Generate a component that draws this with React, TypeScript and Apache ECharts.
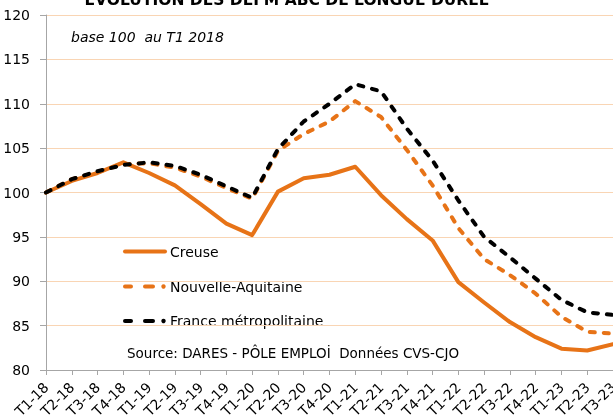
import React, { useEffect, useRef } from "react";
import * as echarts from "echarts";

const categories = [
  "T1-18", "T2-18", "T3-18", "T4-18",
  "T1-19", "T2-19", "T3-19", "T4-19",
  "T1-20", "T2-20", "T3-20", "T4-20",
  "T1-21", "T2-21", "T3-21", "T4-21",
  "T1-22", "T2-22", "T3-22", "T4-22",
  "T1-23", "T2-23", "T3-23",
];

const creuse = [100, 101.3, 102.2, 103.4, 102.2, 100.8, 98.7, 96.5, 95.2, 100.1, 101.6, 102.0, 102.9, 99.7, 97.0, 94.6, 89.9, 87.6, 85.4, 83.7, 82.4, 82.2, 82.9];
const nouvelleAquitaine = [100, 101.5, 102.3, 103.2, 103.3, 102.8, 101.8, 100.5, 99.3, 104.7, 106.6, 108.0, 110.3, 108.5, 104.8, 100.8, 96.0, 92.5, 90.7, 88.6, 86.0, 84.3, 84.1];
const franceMetro = [100, 101.5, 102.4, 103.1, 103.4, 103.0, 102.0, 100.7, 99.4, 104.9, 108.0, 110.0, 112.2, 111.4, 107.2, 103.6, 99.1, 95.0, 92.7, 90.3, 87.9, 86.5, 86.2];

const seriesNames = ["Creuse", "Nouvelle-Aquitaine", "France métropolitaine"];
const yTicks = { min: 80, max: 120, interval: 5 };

const ORANGE = "#E77317";
const GRID = "#F9D5B4";
const AXIS = "#A6A6A6";
const FONT = "DejaVu Sans";

function legendEntry(y: number, color: string, dashed: boolean, label: string) {
  const stroke = { stroke: color, lineWidth: 4, lineCap: "round" };
  const marks: any[] = dashed
    ? [
        { type: "line", shape: { x1: 125, y1: y, x2: 131, y2: y }, style: stroke },
        { type: "line", shape: { x1: 145, y1: y, x2: 153, y2: y }, style: stroke },
        { type: "circle", shape: { cx: 163.5, cy: y, r: 2.2 }, style: { fill: color } },
      ]
    : [{ type: "line", shape: { x1: 125, y1: y, x2: 165, y2: y }, style: stroke }];
  marks.push({
    type: "text",
    x: 170,
    y: y,
    style: {
      text: label,
      textAlign: "left",
      textVerticalAlign: "middle",
      font: `14px ${FONT}`,
      fill: "#000",
    },
  });
  return marks;
}

export default function App() {
  const ref = useRef<HTMLDivElement>(null);
  useEffect(() => {
    if (!ref.current) return;
    const chart = echarts.init(ref.current, null, { renderer: "svg" });
    chart.setOption({
      animation: false,
      textStyle: { fontFamily: FONT },
      grid: { left: 46, right: 0, top: 15, bottom: 46, containLabel: false, outerBoundsMode: "none" },
      graphic: [
        {
          type: "text",
          x: 287,
          y: -0.5,
          style: {
            text: "ÉVOLUTION DES DEFM ABC DE LONGUE DURÉE",
            textAlign: "center",
            textVerticalAlign: "middle",
            font: `bold 15.5px ${FONT}`,
            fill: "#000",
          },
        },
        {
          type: "text",
          x: 71,
          y: 36.5,
          style: {
            text: "base 100  au T1 2018",
            textAlign: "left",
            textVerticalAlign: "middle",
            font: `italic 14px ${FONT}`,
            fill: "#000",
          },
        },
        {
          type: "text",
          x: 127,
          y: 353,
          style: {
            text: "Source: DARES - PÔLE EMPLOİ  Données CVS-CJO",
            textAlign: "left",
            textVerticalAlign: "middle",
            font: `13.5px ${FONT}`,
            fill: "#000",
          },
        },
        ...legendEntry(251.5, ORANGE, false, seriesNames[0]),
        ...legendEntry(286.5, ORANGE, true, seriesNames[1]),
        ...legendEntry(321, "#000", true, seriesNames[2]),
      ],
      xAxis: {
        type: "category",
        boundaryGap: false,
        data: categories,
        axisLine: { lineStyle: { color: AXIS, width: 1 } },
        axisTick: { show: true, length: 5, lineStyle: { color: AXIS } },
        axisLabel: { rotate: 45, interval: 0, fontSize: 14, margin: 15, color: "#000", fontFamily: FONT },
        splitLine: { show: false },
      },
      yAxis: {
        type: "value",
        min: yTicks.min,
        max: yTicks.max,
        interval: yTicks.interval,
        axisLine: { show: true, lineStyle: { color: AXIS, width: 1 } },
        axisTick: { show: true, length: 6, lineStyle: { color: AXIS } },
        axisLabel: { fontSize: 14, margin: 16, color: "#000", fontFamily: FONT },
        splitLine: { show: true, lineStyle: { color: GRID, width: 1 } },
      },
      series: [
        {
          name: seriesNames[0],
          type: "line",
          data: creuse,
          symbol: "none",
          z: 3,
          lineStyle: { color: ORANGE, width: 4, cap: "round", join: "round" },
          itemStyle: { color: ORANGE },
        },
        {
          name: seriesNames[1],
          type: "line",
          data: nouvelleAquitaine,
          symbol: "none",
          z: 4,
          lineStyle: { color: ORANGE, width: 4, type: [5, 9], cap: "round", join: "round" },
          itemStyle: { color: ORANGE },
        },
        {
          name: seriesNames[2],
          type: "line",
          data: franceMetro,
          symbol: "none",
          z: 5,
          lineStyle: { color: "#000", width: 4, type: [5, 9], cap: "round", join: "round" },
          itemStyle: { color: "#000" },
        },
      ],
    });
    return () => chart.dispose();
  }, []);
  return (
    <div
      ref={ref}
      style={{ position: "fixed", left: 0, top: 0, width: 613, height: 416 }}
    />
  );
}
